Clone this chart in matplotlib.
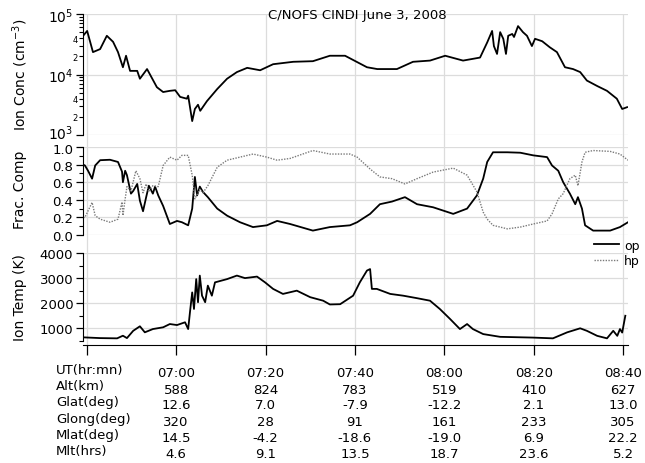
import numpy as np
import matplotlib
matplotlib.use("Agg")
from matplotlib import pyplot as plt
from matplotlib import ticker, transforms

# time axis: minutes after 06:40 UT
# ion concentration (log10 cm^-3)
t_ni = [-0.8, 0.1, 1.4, 3.0, 4.5, 5.9, 7.0, 8.1, 8.8, 9.7,
        11.3, 11.9, 13.5, 14.6, 15.7, 17.1, 18.6, 19.8, 20.9, 22.4,
        22.7, 23.6, 24.2, 24.9, 25.4, 26.9, 29.2, 31.4, 33.6, 35.9,
        38.8, 41.7, 46.2, 50.6, 54.4, 57.8, 62.7, 65.0, 69.4, 73.0,
        76.8, 80.2, 84.2, 88.0, 89.6, 90.7, 91.1, 91.8, 92.5, 93.2,
        93.8, 94.3, 95.2, 95.6, 96.5, 97.6, 98.5, 99.6, 100.3, 101.9,
        103.6, 105.2, 107.0, 108.8, 110.4, 111.9, 114.2, 116.4, 118.6, 119.8,
        120.9]
log_ni = [4.64, 4.72, 4.37, 4.42, 4.64, 4.54, 4.37, 4.12, 4.31, 4.06,
          4.06, 3.93, 4.09, 3.94, 3.79, 3.71, 3.73, 3.74, 3.63, 3.60,
          3.65, 3.23, 3.43, 3.50, 3.40, 3.56, 3.76, 3.93, 4.04, 4.11,
          4.07, 4.17, 4.21, 4.22, 4.31, 4.31, 4.12, 4.09, 4.09, 4.21,
          4.23, 4.31, 4.23, 4.28, 4.53, 4.72, 4.47, 4.34, 4.70, 4.59,
          4.34, 4.64, 4.67, 4.62, 4.80, 4.70, 4.64, 4.47, 4.59, 4.55,
          4.45, 4.37, 4.12, 4.09, 4.04, 3.90, 3.81, 3.73, 3.60, 3.43,
          3.46]

# fractional composition O+ (op)
t_op = [-0.8, -0.4, 0.3, 1.2, 1.9, 3.0, 5.2, 7.0, 7.9, 8.1,
        8.6, 9.0, 9.9, 10.4, 11.3, 11.9, 12.6, 13.3, 13.9, 14.8,
        15.3, 16.0, 17.1, 18.6, 20.2, 21.3, 22.7, 23.6, 24.2, 24.7,
        25.3, 26.0, 27.1, 29.2, 31.4, 34.3, 37.2, 40.3, 42.6, 45.5,
        50.6, 54.4, 58.9, 60.5, 63.4, 65.6, 68.3, 71.2, 73.9, 77.5,
        82.0, 85.1, 87.3, 88.7, 89.6, 90.9, 94.1, 97.0, 99.9, 103.0,
        104.1, 105.5, 106.6, 108.1, 109.3, 109.9, 110.8, 111.5, 113.3, 117.1,
        119.3, 121.1]
op = [0.80, 0.79, 0.73, 0.64, 0.79, 0.85, 0.855, 0.83, 0.72, 0.60,
      0.73, 0.68, 0.47, 0.50, 0.58, 0.39, 0.27, 0.43, 0.56, 0.47,
      0.55, 0.45, 0.33, 0.125, 0.16, 0.145, 0.11, 0.30, 0.66, 0.45,
      0.55, 0.49, 0.43, 0.30, 0.22, 0.145, 0.09, 0.11, 0.16, 0.125,
      0.05, 0.09, 0.11, 0.145, 0.24, 0.35, 0.38, 0.43, 0.35, 0.315,
      0.24, 0.30, 0.45, 0.64, 0.83, 0.94, 0.94, 0.935, 0.905, 0.885,
      0.79, 0.73, 0.60, 0.47, 0.35, 0.43, 0.30, 0.11, 0.05, 0.05,
      0.09, 0.145]

# fractional composition H+ (hp)
t_hp = [-0.8, -0.4, 1.2, 1.9, 3.0, 5.2, 7.0, 7.9, 8.1, 8.6,
        9.0, 9.9, 11.0, 11.9, 12.6, 13.3, 13.9, 14.8, 16.0, 17.1,
        18.6, 20.2, 21.3, 22.7, 23.6, 24.2, 25.3, 26.0, 27.1, 29.2,
        31.4, 34.3, 37.2, 40.3, 42.6, 45.5, 50.6, 54.4, 58.9, 60.5,
        63.4, 65.6, 68.3, 71.2, 73.9, 77.5, 82.0, 85.1, 87.3, 88.7,
        89.6, 90.9, 94.1, 97.0, 99.9, 103.0, 104.1, 105.5, 106.6, 108.1,
        109.3, 109.9, 110.8, 111.5, 113.3, 117.1, 119.3, 121.1]
hp = [0.20, 0.20, 0.37, 0.22, 0.18, 0.145, 0.18, 0.375, 0.22, 0.41,
      0.55, 0.50, 0.73, 0.64, 0.48, 0.58, 0.49, 0.56, 0.55, 0.79,
      0.885, 0.85, 0.905, 0.905, 0.68, 0.41, 0.52, 0.48, 0.56, 0.77,
      0.85, 0.885, 0.92, 0.885, 0.85, 0.87, 0.96, 0.92, 0.92, 0.885,
      0.75, 0.66, 0.64, 0.58, 0.64, 0.715, 0.76, 0.68, 0.49, 0.26,
      0.18, 0.11, 0.07, 0.09, 0.125, 0.16, 0.24, 0.41, 0.47, 0.64,
      0.68, 0.56, 0.83, 0.94, 0.96, 0.95, 0.92, 0.85]

# ion temperature (K)
t_ti = [-0.8, 3.0, 6.8, 8.1, 9.0, 10.4, 11.9, 13.0, 14.8, 17.1,
        18.6, 20.2, 22.0, 22.7, 23.1, 23.6, 24.0, 24.5, 24.9, 25.3,
        25.8, 26.5, 27.1, 28.0, 28.7, 31.4, 33.6, 35.4, 38.1, 39.9,
        41.7, 43.9, 47.0, 50.0, 52.9, 54.4, 56.7, 59.6, 61.1, 62.7,
        63.4, 63.8, 64.9, 67.9, 70.8, 73.9, 76.8, 79.0, 81.3, 83.5,
        85.1, 86.4, 88.7, 92.5, 99.9, 104.3, 107.5, 110.4, 111.9, 114.2,
        116.4, 117.8, 118.7, 119.3, 119.8, 120.5]
ti = [640, 610, 600, 705, 610, 900, 1080, 840, 970, 1040,
      1170, 1130, 1240, 970, 1640, 2430, 1770, 2960, 2040, 3100,
      2300, 2040, 2700, 2300, 2830, 2960, 3100, 3000, 3060, 2830,
      2570, 2370, 2500, 2240, 2100, 1950, 1960, 2300, 2830, 3300,
      3360, 2570, 2570, 2370, 2300, 2200, 2100, 1770, 1370, 970,
      1170, 970, 770, 660, 630, 600, 840, 1000, 900, 700,
      600, 900, 700, 970, 830, 1500]

# ephemeris table
tick_min = [20, 40, 60, 80, 100, 120]
row_names = ["UT(hr:mn)", "Alt(km)", "Glat(deg)", "Glong(deg)", "Mlat(deg)", "Mlt(hrs)"]
ut_lab = ["07:00", "07:20", "07:40", "08:00", "08:20", "08:40"]
alt = ["588", "824", "783", "519", "410", "627"]
glat = ["12.6", "7.0", "-7.9", "-12.2", "2.1", "13.0"]
glong = ["320", "28", "91", "161", "233", "305"]
mlat = ["14.5", "-4.2", "-18.6", "-19.0", "6.9", "22.2"]
mlt = ["4.6", "9.1", "13.5", "18.7", "23.6", "5.2"]

plt.rcParams['font.family'] = ['DejaVu Sans']
plt.rcParams['font.size'] = 9

W, H = 645, 464
fig = plt.figure(figsize=(W / 100, H / 100), dpi=100)

def fy(px):
    return 1 - px / H

L = 83 / W
AW = 545 / W
xlim = (-0.83, 121.1)
gridc = "#dcdcdc"

# background axes just for the vertical grid lines across all panels
bg = fig.add_axes([L, fy(346), AW, fy(15) - fy(346)], zorder=0)
bg.set_xlim(xlim)
bg.set_xticks([0, 20, 40, 60, 80, 100, 120])
bg.grid(axis="x", color=gridc, lw=0.9)
bg.tick_params(length=0, labelbottom=False, labelleft=False)
bg.set_yticks([])
for s in bg.spines.values():
    s.set_visible(False)
bg.patch.set_alpha(0)

ax1 = fig.add_axes([L, fy(136), AW, fy(15) - fy(136)], zorder=2)
ax2 = fig.add_axes([L, fy(236), AW, fy(148) - fy(236)], zorder=2)
ax3 = fig.add_axes([L, fy(346), AW, fy(254) - fy(346)], zorder=2)

for ax in (ax1, ax2, ax3):
    ax.patch.set_alpha(0)
    ax.set_xlim(xlim)
    ax.spines["top"].set_visible(False)
    ax.spines["right"].set_visible(False)
    ax.tick_params(axis="y", direction="out", length=5, width=0.9, pad=2, labelsize=9.5)
    ax.tick_params(axis="y", which="minor", length=3, width=0.8)
    ax.yaxis.grid(True, color=gridc, lw=0.9)
    ax.set_axisbelow(True)

for ax in (ax1, ax2):
    ax.spines["bottom"].set_visible(False)
    ax.set_xticks([])

# top: ion concentration
ax1.plot(t_ni, 10 ** np.array(log_ni), color="k", lw=1.3)
ax1.set_yscale("log")
ax1.set_ylim(1e3, 1e5)
ax1.set_yticks([1e3, 1e4, 1e5])
ax1.set_yticklabels(["$10^3$", "$10^4$", "$10^5$"])
ax1.yaxis.set_minor_locator(ticker.LogLocator(base=10, subs=np.arange(2, 10), numticks=10))

def minor_fmt(v, pos):
    m = v / 10 ** np.floor(np.log10(v) + 1e-9)
    return "%d" % round(m) if round(m) in (2, 4) else ""

ax1.yaxis.set_minor_formatter(ticker.FuncFormatter(minor_fmt))
ax1.tick_params(axis="y", which="minor", labelsize=6, pad=1)
ax1.tick_params(axis="y", which="major", labelsize=10)
# lift the 10^3 label a little so it clears the 1.0 label below
lab0 = ax1.yaxis.get_major_ticks()[0].label1
lab0.set_transform(lab0.get_transform() + transforms.ScaledTranslation(0, 3 / 72, fig.dpi_scale_trans))

# middle: composition
ax2.plot(t_op, op, color="k", lw=1.3, label="op")
ax2.plot(t_hp, hp, color="#7a7a7a", lw=1.0, ls=(0, (1, 1)), label="hp")
ax2.set_ylim(0, 1.0)
ax2.set_yticks([0.0, 0.2, 0.4, 0.6, 0.8, 1.0])
ax2.yaxis.set_major_formatter(ticker.FormatStrFormatter("%.1f"))
ax2.yaxis.set_minor_locator(ticker.MultipleLocator(0.1))
lab_top = ax2.yaxis.get_major_ticks()[-1].label1
lab_top.set_transform(lab_top.get_transform() + transforms.ScaledTranslation(0, -1 / 72, fig.dpi_scale_trans))

# bottom: ion temperature
ax3.plot(t_ti, ti, color="k", lw=1.3)
ax3.set_ylim(335, 4000)
ax3.set_yticks([1000, 2000, 3000, 4000])
ax3.yaxis.set_minor_locator(ticker.FixedLocator([500, 1500, 2500, 3500]))
ax3.spines["left"].set_bounds(500, 4000)
ax3.set_xticks([0, 20, 40, 60, 80, 100, 120])
ax3.tick_params(axis="x", direction="out", length=7, width=0.9, labelbottom=False)

# axis titles
fig.text(20 / W, fy(75), "Ion Conc (cm$^{-3}$)", rotation=90, ha="center", va="center", fontsize=10)
fig.text(20 / W, fy(190), "Frac. Comp", rotation=90, ha="center", va="center", fontsize=10)
fig.text(20 / W, fy(298), "Ion Temp (K)", rotation=90, ha="center", va="center", fontsize=10)
fig.text(357 / W, fy(16), "C/NOFS CINDI June 3, 2008", ha="center", va="center", fontsize=9.5)

# legend
h, lab = ax2.get_legend_handles_labels()
fig.legend(h, lab, loc="center left", bbox_to_anchor=(588 / W, fy(254)), frameon=False,
           fontsize=9, handlelength=2.0, handletextpad=0.4, labelspacing=0.2, borderpad=0)

# ephemeris table under the time axis
tr = transforms.blended_transform_factory(ax3.transData, fig.transFigure)
rows = [ut_lab, alt, glat, glong, mlat, mlt]
row_y = [371, 387, 403, 420, 436, 452]
for name, vals, y in zip(row_names, rows, row_y):
    fig.text(56 / W, fy(y), name, ha="left", va="center", fontsize=9.5)
    for t, v in zip(tick_min, vals):
        ax3.text(t, fy(y + 3), v, transform=tr, ha="center", va="center", fontsize=9.5)

plt.savefig("out.png", dpi=100)
